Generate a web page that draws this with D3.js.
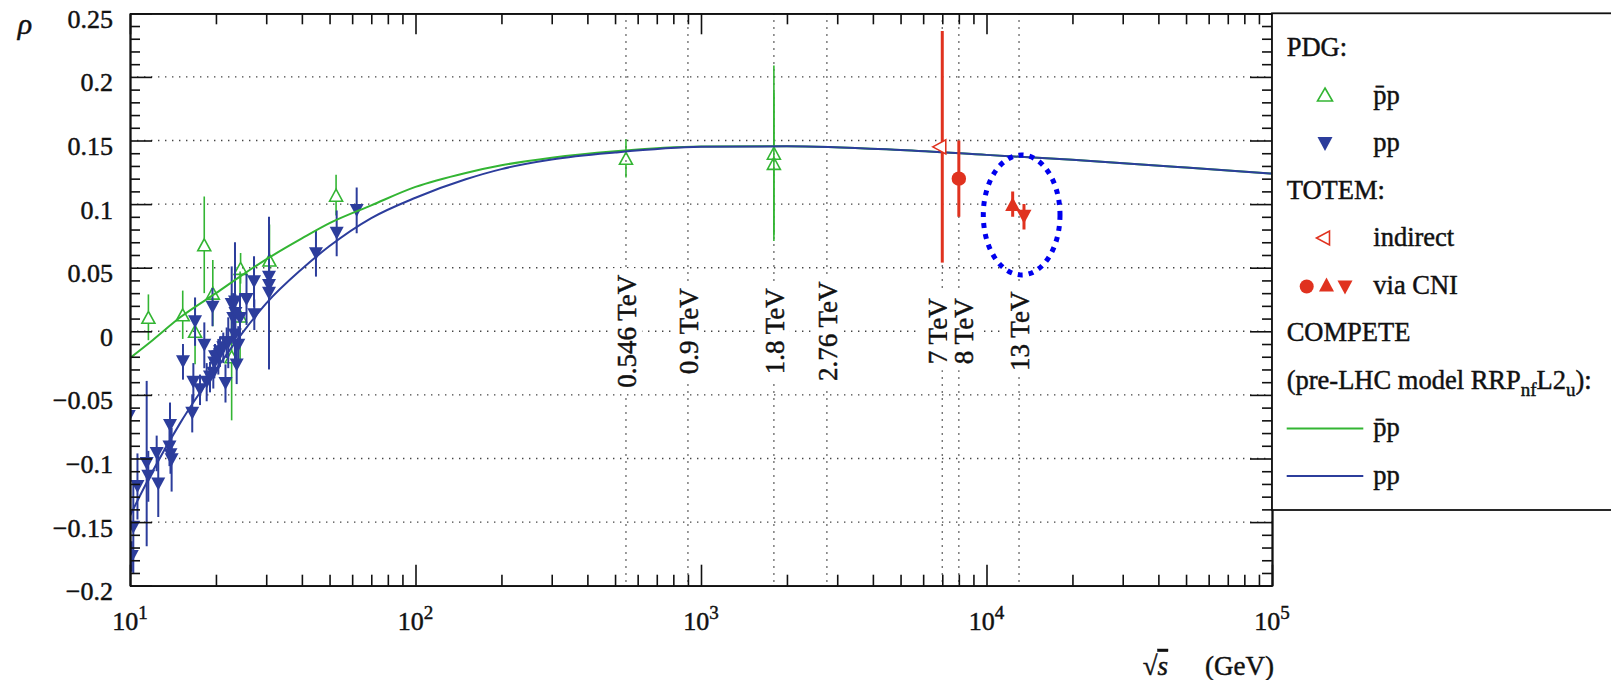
<!DOCTYPE html>
<html><head><meta charset="utf-8">
<script src="https://cdn.jsdelivr.net/npm/d3@7"></script>
<style>
body{margin:0;background:#fff;}
svg{display:block;font-family:"Liberation Serif","Times New Roman",serif;}
svg text{font-family:"Liberation Serif","Times New Roman",serif;stroke:#111;stroke-width:0.45px;}
</style></head><body>
<svg id="chart" width="1611" height="680"></svg>
<script>
// ---------------- DATA ----------------
// COMPETE RRPnfL2u model curves, sampled at these energies (GeV)
const curveEnergies = [10, 12, 15, 20, 25, 30, 40, 50, 70, 100, 150, 200, 300, 500, 1000, 2000, 5000, 10000, 20000, 50000, 100000];
const competePbarP = [-0.021, -0.007, 0.011, 0.030, 0.045, 0.0565, 0.073, 0.085, 0.099, 0.1135, 0.1245, 0.1305, 0.1365, 0.1415, 0.1452, 0.1455, 0.1425, 0.1387, 0.1348, 0.1288, 0.1240];
const competePP    = [-0.145, -0.110, -0.072, -0.030, 0.000, 0.022, 0.049, 0.067, 0.089, 0.105, 0.1195, 0.1275, 0.1350, 0.1405, 0.1450, 0.1455, 0.1425, 0.1387, 0.1348, 0.1288, 0.1240];

// PDG pbar-p : [sqrt(s) GeV, rho, error]
const pdgPbarP = [
  [11.6, 0.011, 0.018], [15.3, 0.013, 0.019], [16.9, 0.000, 0.026], [18.2, 0.068, 0.038],
  [19.5, 0.030, 0.026], [22.7, -0.020, 0.050], [24.3, 0.012, 0.035], [24.4, 0.0495, 0.012],
  [30.8, 0.056, 0.028], [52.7, 0.107, 0.016], [546, 0.136, 0.015], [1800, 0.140, 0.069],
  [1800, 0.132, 0.056]
];
// PDG pp : [sqrt(s) GeV, rho, error]
const pdgPP = [
  [9.9, -0.067, 0.020], [10.14, -0.177, 0.012], [10.27, -0.154, 0.036], [10.62, -0.122, 0.026],
  [11.44, -0.104, 0.065], [11.59, -0.114, 0.020], [12.40, -0.096, 0.014], [12.56, -0.120, 0.026],
  [13.81, -0.074, 0.018], [13.75, -0.091, 0.015], [13.86, -0.097, 0.015], [13.99, -0.101, 0.025],
  [15.33, -0.024, 0.014], [16.52, -0.0645, 0.015], [16.67, -0.040, 0.015], [16.90, 0.0076, 0.019],
  [17.59, -0.046, 0.012], [18.21, -0.011, 0.018], [18.56, -0.040, 0.015], [19.06, -0.036, 0.012],
  [19.45, 0.019, 0.015], [19.58, -0.033, 0.012], [19.74, -0.025, 0.012], [19.85, -0.020, 0.010],
  [20.39, -0.020, 0.014], [20.67, -0.016, 0.012], [21.22, -0.013, 0.012], [21.60, -0.041, 0.015],
  [21.81, -0.009, 0.012], [22.09, -0.009, 0.020], [22.71, 0.021, 0.030], [23.00, 0.010, 0.020],
  [23.32, 0.023, 0.047], [23.30, -0.003, 0.015], [23.40, 0.014, 0.015], [23.64, -0.0265, 0.015],
  [23.95, -0.011, 0.015], [24.28, 0.010, 0.020], [25.59, 0.025, 0.020], [27.19, 0.039, 0.020],
  [27.25, 0.013, 0.012], [30.68, 0.0425, 0.012], [30.68, 0.036, 0.012], [30.68, 0.030, 0.060],
  [44.81, 0.061, 0.018], [52.96, 0.077, 0.018], [62.23, 0.095, 0.018]
];
// TOTEM
const totemIndirect = [[7000, 0.145, 0.091]];
const totemCNIcircle = [[8000, 0.120, 0.030]];
const totemCNIup = [[12350, 0.100, 0.010]];
const totemCNIdown = [[13530, 0.090, 0.010]];

// highlighted region (dotted ellipse): [sqrt(s) min, sqrt(s) max, rho min, rho max]
const highlightRegion = [9745, 18090, 0.0443, 0.1386];

// vertical reference energies
const energyLines = [546, 900, 1800, 2760, 7000, 8000, 13000];
const energyLabels = ["0.546 TeV", "0.9 TeV", "1.8 TeV", "2.76 TeV", "7 TeV", "8 TeV", "13 TeV"];

// axis ticks
const xTicks = [10, 100, 1000, 10000, 100000];
const xTickExponents = ["1", "2", "3", "4", "5"];
const yTicks = [-0.2, -0.15, -0.1, -0.05, 0, 0.05, 0.1, 0.15, 0.2, 0.25];
const yTickLabels = ["\u22120.2", "\u22120.15", "\u22120.1", "\u22120.05", "0", "0.05", "0.1", "0.15", "0.2", "0.25"];

// ---------------- STYLE / LAYOUT ----------------
const C_GREEN = "#33b533", C_BLUE = "#2c3d9c", C_RED = "#e0321f", C_ELL = "#0000ee", C_AX = "#111";
const FONT = "Liberation Serif";
const L = 130, R = 1272, T = 13.3, B = 585.7;

const svg = d3.select("#chart");
const x = d3.scaleLog().domain([10, 1e5]).range([L, R]);
const y = d3.scaleLinear().domain([-0.2, 0.25]).range([B, T]);

svg.append("defs").append("clipPath").attr("id", "plotclip")
  .append("rect").attr("x", L).attr("y", T).attr("width", R - L).attr("height", B - T);

// horizontal grid
const gridY = yTicks.filter(v => v > -0.2 + 1e-9 && v < 0.25 - 1e-9);
svg.append("g").selectAll("line").data(gridY).join("line")
  .attr("x1", L).attr("x2", R).attr("y1", d => y(d)).attr("y2", d => y(d))
  .attr("stroke", "#444").attr("stroke-width", 1.4).attr("stroke-dasharray", "1.4 5.6");

// vertical energy lines
svg.append("g").selectAll("line").data(energyLines).join("line")
  .attr("x1", d => x(d)).attr("x2", d => x(d)).attr("y1", T).attr("y2", B)
  .attr("stroke", "#444").attr("stroke-width", 1.4).attr("stroke-dasharray", "1.4 5.6");

// energy labels with white background
const labelShift = {"7 TeV": 4.5, "8 TeV": 14.5};
const lg = svg.append("g");
energyLines.forEach((e, i) => {
  const txt = energyLabels[i];
  const g = lg.append("g").attr("transform", `translate(${x(e) + (labelShift[txt] ?? 10)},${y(0)}) rotate(-90)`);
  const rect = g.append("rect").attr("fill", "#fff");
  const t = g.append("text").attr("text-anchor", "middle").attr("font-family", FONT).attr("font-size", 27).attr("fill", "#111").text(txt);
  const bb = t.node().getBBox();
  rect.attr("x", bb.x - 6).attr("y", bb.y - 2).attr("width", bb.width + 12).attr("height", bb.height + 2);
});

const plot = svg.append("g").attr("clip-path", "url(#plotclip)");

// error bars helper
function errBars(data, color, width, gap) {
  const g = plot.append("g").attr("stroke", color).attr("stroke-width", width);
  data.forEach(d => {
    const cx = x(d[0]), yc = y(d[1]), yt = y(d[1] + d[2]), yb = y(d[1] - d[2]);
    if (gap > 0) {
      if (yc - gap > yt) g.append("line").attr("x1", cx).attr("x2", cx).attr("y1", yt).attr("y2", yc - gap);
      if (yc + gap < yb) g.append("line").attr("x1", cx).attr("x2", cx).attr("y1", yc + gap).attr("y2", yb);
    } else {
      g.append("line").attr("x1", cx).attr("x2", cx).attr("y1", yt).attr("y2", yb);
    }
  });
}
// ROOT-like triangle marker (apex up), centred on its bounding box
const tri = (w, h) => `M0,${-h / 2}L${w / 2},${h / 2}L${-w / 2},${h / 2}Z`;

// PDG pbar-p
errBars(pdgPbarP, C_GREEN, 1.6, 6);
plot.append("g").selectAll("path").data(pdgPbarP).join("path")
  .attr("d", tri(13, 12)).attr("transform", d => `translate(${x(d[0])},${y(d[1])})`)
  .attr("fill", "none").attr("stroke", C_GREEN).attr("stroke-width", 1.6);

// PDG pp
errBars(pdgPP, C_BLUE, 2, 0);
plot.append("g").selectAll("path").data(pdgPP).join("path")
  .attr("d", tri(14, 13)).attr("transform", d => `translate(${x(d[0])},${y(d[1])}) rotate(180)`)
  .attr("fill", C_BLUE);

// COMPETE curves
const line = d3.line().x((d, i) => x(curveEnergies[i])).y(d => y(d)).curve(d3.curveMonotoneX);
plot.append("path").datum(competePbarP).attr("d", line).attr("fill", "none").attr("stroke", C_GREEN).attr("stroke-width", 2);
plot.append("path").datum(competePP).attr("d", line).attr("fill", "none").attr("stroke", C_BLUE).attr("stroke-width", 2);

// TOTEM
errBars(totemIndirect, C_RED, 3, 0);
plot.append("g").selectAll("path").data(totemIndirect).join("path")
  .attr("d", tri(14, 13)).attr("transform", d => `translate(${x(d[0]) - 3},${y(d[1])}) rotate(-90)`)
  .attr("fill", "#fff").attr("stroke", C_RED).attr("stroke-width", 1.6);
errBars(totemCNIcircle, C_RED, 3, 0);
plot.append("g").selectAll("circle").data(totemCNIcircle).join("circle")
  .attr("cx", d => x(d[0])).attr("cy", d => y(d[1])).attr("r", 7.2).attr("fill", C_RED);
errBars(totemCNIup, C_RED, 3, 0);
plot.append("g").selectAll("path").data(totemCNIup).join("path")
  .attr("d", tri(15, 14)).attr("transform", d => `translate(${x(d[0])},${y(d[1])})`).attr("fill", C_RED);
errBars(totemCNIdown, C_RED, 3, 0);
plot.append("g").selectAll("path").data(totemCNIdown).join("path")
  .attr("d", tri(15, 14)).attr("transform", d => `translate(${x(d[0])},${y(d[1])}) rotate(180)`).attr("fill", C_RED);

// highlight ellipse
{
  const [s0, s1, r0, r1] = highlightRegion;
  svg.append("ellipse")
    .attr("cx", (x(s0) + x(s1)) / 2).attr("cy", (y(r0) + y(r1)) / 2)
    .attr("rx", (x(s1) - x(s0)) / 2).attr("ry", (y(r0) - y(r1)) / 2)
    .attr("fill", "none").attr("stroke", C_ELL).attr("stroke-width", 5).attr("stroke-dasharray", "5 6");
}

// ---------------- AXES ----------------
function styleAxis(g) {
  g.attr("font-family", null).attr("font-size", null);
  g.selectAll("line").attr("stroke", C_AX).attr("stroke-width", 1.6);
  g.select(".domain").attr("stroke", C_AX).attr("stroke-width", 1.8);
}
const minorX = [];
[10, 100, 1000, 10000].forEach(dec => { for (let k = 2; k <= 9; k++) minorX.push(dec * k); });
const minorY = d3.range(-20, 26).map(v => v / 100).filter(v => Math.abs(Math.round(v * 20) - v * 20) > 1e-6);

svg.append("g").attr("transform", `translate(0,${B})`)
  .call(d3.axisBottom(x).tickValues(xTicks).tickSize(-21).tickSizeOuter(0).tickFormat("")).call(styleAxis);
svg.append("g").attr("transform", `translate(0,${B})`)
  .call(d3.axisBottom(x).tickValues(minorX).tickSize(-11).tickSizeOuter(0).tickFormat("")).call(styleAxis);
svg.append("g").attr("transform", `translate(0,${T})`)
  .call(d3.axisTop(x).tickValues(xTicks).tickSize(-21).tickSizeOuter(0).tickFormat("")).call(styleAxis);
svg.append("g").attr("transform", `translate(0,${T})`)
  .call(d3.axisTop(x).tickValues(minorX).tickSize(-11).tickSizeOuter(0).tickFormat("")).call(styleAxis);

const yAx = svg.append("g").attr("transform", `translate(${L},0)`)
  .call(d3.axisLeft(y).tickValues(yTicks).tickSize(-22).tickSizeOuter(0).tickPadding(17)
    .tickFormat((d, i) => yTickLabels[i])).call(styleAxis);
yAx.selectAll("text").attr("font-size", 26).attr("font-family", FONT).attr("fill", "#111").attr("dy", "14px");
svg.append("g").attr("transform", `translate(${L},0)`)
  .call(d3.axisLeft(y).tickValues(minorY).tickSize(-10).tickSizeOuter(0).tickFormat("")).call(styleAxis);
svg.append("g").attr("transform", `translate(${R},0)`)
  .call(d3.axisRight(y).tickValues(yTicks).tickSize(-22).tickSizeOuter(0).tickFormat("")).call(styleAxis);
svg.append("g").attr("transform", `translate(${R},0)`)
  .call(d3.axisRight(y).tickValues(minorY).tickSize(-10).tickSizeOuter(0).tickFormat("")).call(styleAxis);

// x tick labels 10^n
const xl = svg.append("g").attr("fill", "#111");
xTicks.forEach((v, i) => {
  const t = xl.append("text").attr("x", x(v)).attr("y", 630).attr("text-anchor", "middle").attr("font-family", FONT).attr("font-size", 26);
  t.append("tspan").text("10");
  t.append("tspan").attr("dy", -11).attr("font-size", 19).text(xTickExponents[i]);
});

// axis titles
svg.append("text").attr("x", 25).attr("y", 34).attr("text-anchor", "middle").attr("font-family", FONT)
  .attr("font-size", 30).attr("font-style", "italic").attr("fill", "#111").text("\u03C1");
const xt = svg.append("text").attr("x", 1168).attr("y", 675).attr("text-anchor", "end").attr("font-family", FONT).attr("font-size", 27).attr("fill", "#111");
xt.append("tspan").text("\u221A");
xt.append("tspan").attr("font-style", "italic").style("text-decoration", "overline").text("s");
svg.append("text").attr("x", 1274).attr("y", 675).attr("text-anchor", "end").attr("font-family", FONT).attr("font-size", 27).attr("fill", "#111").text("(GeV)");

// ---------------- LEGEND ----------------
const legendRows = ["PDG:", "p\u0304p", "pp", "TOTEM:", "indirect", "via CNI", "COMPETE", "(pre-LHC model RRP_nfL2_u):", "p\u0304p", "pp"];
const leg = svg.append("g");
leg.append("rect").attr("x", R).attr("y", T).attr("width", 420).attr("height", 510 - T)
  .attr("fill", "#fff").attr("stroke", C_AX).attr("stroke-width", 1.8);
const rowY = i => 56 + i * 47.5;
const headX = 1286.7, textX = 1373.3, markX = 1325;
function legText(i, xx) {
  return leg.append("text").attr("x", xx).attr("y", rowY(i)).attr("font-family", FONT).attr("font-size", 26.5).attr("fill", "#111");
}
legText(0, headX).text(legendRows[0]);
legText(1, textX).text(legendRows[1]);
leg.append("path").attr("d", tri(15, 13)).attr("transform", `translate(${markX},${rowY(1) - 9})`)
  .attr("fill", "none").attr("stroke", C_GREEN).attr("stroke-width", 1.6);
legText(2, textX).text(legendRows[2]);
leg.append("path").attr("d", tri(15, 14)).attr("transform", `translate(${markX},${rowY(2) - 7})rotate(180)`).attr("fill", C_BLUE);
legText(3, headX).text(legendRows[3]);
legText(4, textX).text(legendRows[4]);
leg.append("path").attr("d", tri(14, 13)).attr("transform", `translate(${markX - 2},${rowY(4) - 8})rotate(-90)`)
  .attr("fill", "none").attr("stroke", C_RED).attr("stroke-width", 1.6);
legText(5, textX).text(legendRows[5]);
leg.append("circle").attr("cx", 1306.7).attr("cy", rowY(5) - 7).attr("r", 7).attr("fill", C_RED);
leg.append("path").attr("d", tri(15, 14)).attr("transform", `translate(1326.5,${rowY(5) - 9})`).attr("fill", C_RED);
leg.append("path").attr("d", tri(15, 14)).attr("transform", `translate(1345,${rowY(5) - 6})rotate(180)`).attr("fill", C_RED);
legText(6, headX).text(legendRows[6]);
{
  const t = legText(7, headX);
  const parts = legendRows[7].split(/_(nf|u)/);
  parts.forEach((p, k) => {
    if (k % 2 === 1) t.append("tspan").attr("font-size", 19).attr("dy", 7).text(p);
    else t.append("tspan").attr("dy", k === 0 ? 0 : -7).text(p);
  });
}
legText(8, textX).text(legendRows[8]);
leg.append("line").attr("x1", 1286.7).attr("x2", 1363.3).attr("y1", rowY(8) - 7.5).attr("y2", rowY(8) - 7.5)
  .attr("stroke", C_GREEN).attr("stroke-width", 1.8);
legText(9, textX).text(legendRows[9]);
leg.append("line").attr("x1", 1286.7).attr("x2", 1363.3).attr("y1", rowY(9) - 7.5).attr("y2", rowY(9) - 7.5)
  .attr("stroke", C_BLUE).attr("stroke-width", 1.8);
</script>
</body></html>
